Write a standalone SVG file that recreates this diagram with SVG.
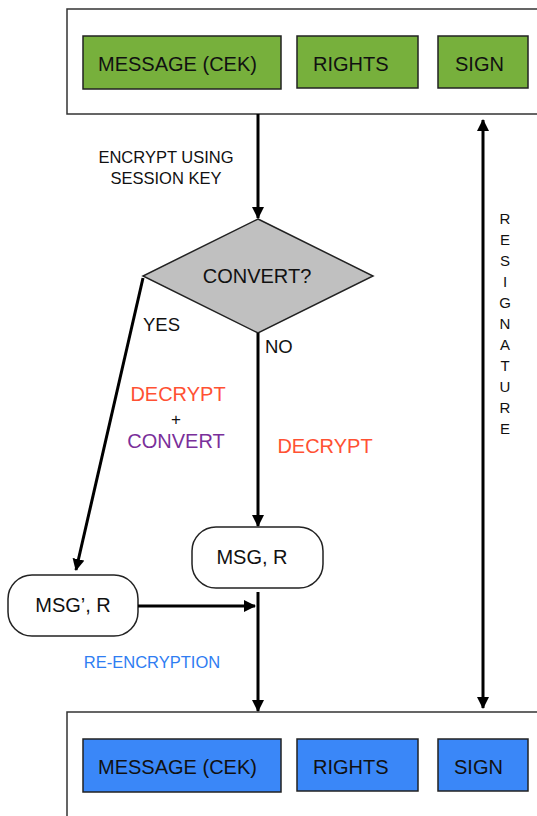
<svg xmlns="http://www.w3.org/2000/svg" width="537" height="816" viewBox="0 0 537 816">
  <style>
    text { font-family: "Liberation Sans", Arial, sans-serif; fill: #111; }
    .frame { fill: #fff; stroke: #333; stroke-width: 1.5; }
    .green { fill: #77b03c; stroke: #222; stroke-width: 1.5; }
    .blue { fill: #3a87f8; stroke: #222; stroke-width: 1.5; }
    .pill { fill: #fff; stroke: #222; stroke-width: 1.5; }
    .edge { fill: none; stroke: #000; stroke-width: 3; }
    .lbl { font-size: 17px; }
    .big { font-size: 20px; }
  </style>
  <defs>
    <marker id="arrow" viewBox="0 0 12 12" refX="11" refY="6" markerWidth="12" markerHeight="12" markerUnits="userSpaceOnUse" orient="auto-start-reverse">
      <path d="M0,0 L12,6 L0,12 Z" fill="#000"/>
    </marker>
  </defs>

  <!-- source package -->
  <g id="source">
    <rect class="frame" x="67" y="9" width="500" height="105"/>
    <g id="src-message"><rect class="green" x="83" y="36" width="198" height="53"/><text class="big" x="98" y="71">MESSAGE (CEK)</text></g>
    <g id="src-rights"><rect class="green" x="297" y="36" width="121" height="52"/><text class="big" x="313" y="71">RIGHTS</text></g>
    <g id="src-sign"><rect class="green" x="438" y="36" width="90" height="52"/><text class="big" x="455" y="71">SIGN</text></g>
  </g>

  <!-- decision -->
  <g id="convert">
    <polygon points="258,219 373,276 258,333 143,276" fill="#c0c0c0" stroke="#222" stroke-width="1.5"/>
    <text class="big" x="257" y="283" text-anchor="middle">CONVERT?</text>
  </g>

  <g id="msg-converted">
    <rect class="pill" x="8" y="575" width="130" height="61" rx="24"/>
    <text class="big" x="73" y="612" text-anchor="middle">MSG’, R</text>
  </g>

  <g id="msg-plain">
    <rect class="pill" x="192" y="527" width="131" height="61" rx="24"/>
    <text class="big" x="252" y="564" text-anchor="middle">MSG, R</text>
  </g>

  <!-- target package -->
  <g id="target">
    <rect class="frame" x="67" y="712" width="500" height="130"/>
    <g id="dst-message"><rect class="blue" x="83" y="739" width="198" height="53"/><text class="big" x="98" y="774">MESSAGE (CEK)</text></g>
    <g id="dst-rights"><rect class="blue" x="297" y="739" width="121" height="52"/><text class="big" x="313" y="774">RIGHTS</text></g>
    <g id="dst-sign"><rect class="blue" x="438" y="739" width="90" height="52"/><text class="big" x="454" y="774">SIGN</text></g>
  </g>

  <!-- connectors -->
  <g id="connectors">
    <line class="edge" x1="258" y1="114" x2="258" y2="218" marker-end="url(#arrow)"/>
    <line class="edge" x1="143" y1="278" x2="76" y2="570" marker-end="url(#arrow)"/>
    <line class="edge" x1="258" y1="333" x2="258" y2="526" marker-end="url(#arrow)"/>
    <line class="edge" x1="138" y1="606" x2="255" y2="606" marker-end="url(#arrow)"/>
    <line class="edge" x1="258" y1="592" x2="258" y2="711" marker-end="url(#arrow)"/>
    <line class="edge" x1="483" y1="120" x2="483" y2="708" marker-start="url(#arrow)" marker-end="url(#arrow)"/>
  </g>

  <!-- edge labels -->
  <g id="labels">
    <text class="lbl" x="166" y="163" text-anchor="middle" style="font-size:16.5px">ENCRYPT USING</text>
    <text class="lbl" x="166" y="184" text-anchor="middle" style="font-size:16.5px">SESSION KEY</text>
    <text class="lbl" x="143" y="331" style="font-size:18.5px">YES</text>
    <text class="lbl" x="265" y="353" style="font-size:18.5px">NO</text>
    <text class="big" x="178" y="401" text-anchor="middle" style="fill:#ff5133">DECRYPT</text>
    <text class="lbl" x="176" y="425" text-anchor="middle">+</text>
    <text class="big" x="176" y="448" text-anchor="middle" style="fill:#7a2f9a">CONVERT</text>
    <text class="big" x="325" y="453" text-anchor="middle" style="fill:#ff5133">DECRYPT</text>
    <text class="lbl" x="152" y="668" text-anchor="middle" style="fill:#2f7df2;font-size:16.5px">RE-ENCRYPTION</text>
    <g id="resignature" style="font-size:15px" text-anchor="middle">
      <text x="505" y="224">R</text>
      <text x="505" y="245">E</text>
      <text x="505" y="266">S</text>
      <text x="505" y="287">I</text>
      <text x="505" y="308">G</text>
      <text x="505" y="329">N</text>
      <text x="505" y="350">A</text>
      <text x="505" y="371">T</text>
      <text x="505" y="392">U</text>
      <text x="505" y="413">R</text>
      <text x="505" y="434">E</text>
    </g>
  </g>
</svg>
